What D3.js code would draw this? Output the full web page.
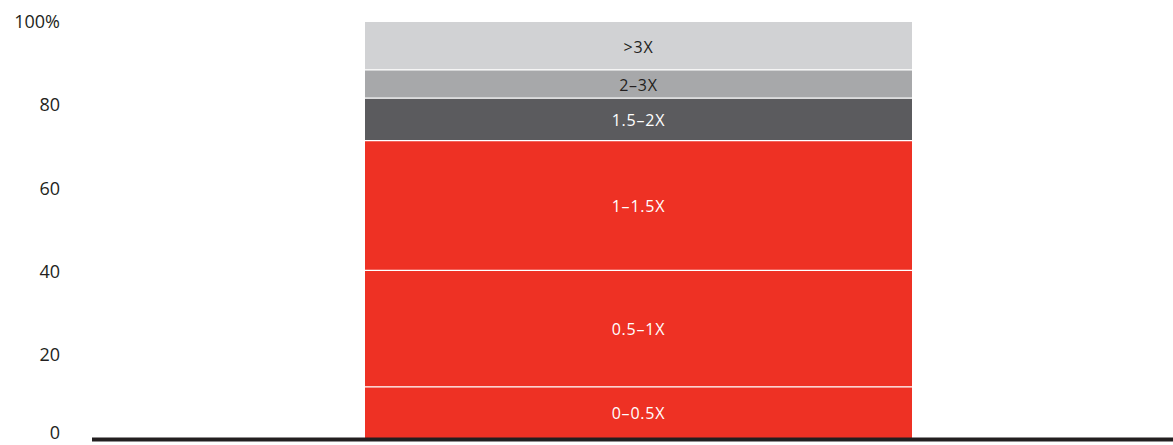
<!DOCTYPE html>
<html><head><meta charset="utf-8">
<script src="https://cdn.jsdelivr.net/npm/d3@7"></script>
<style>
html,body{margin:0;padding:0;background:#fff;}
svg{display:block;font-family:"Open Sans","Lato",sans-serif;}
</style></head>
<body>
<svg id="chart" width="1173" height="445"></svg>
<script>
const categories = ["All"];
const segments = ["0–0.5X", "0.5–1X", "1–1.5X", "1.5–2X", "2–3X", ">3X"];
const values = [12.3, 28, 31.2, 10.2, 6.8, 11.5];
const colors = ["#EE3124", "#EE3124", "#EE3124", "#5B5B5E", "#A7A8AA", "#D1D2D4"];
const labelColors = ["#fff", "#fff", "#fff", "#fff", "#231F20", "#231F20"];
const yTicks = [0, 20, 40, 60, 80, 100];

const svg = d3.select("#chart");
const y = d3.scaleLinear().domain([0, 100]).range([438, 22]);
const x = d3.scaleBand().domain(categories).range([365, 912]).padding(0);

let cum = 0;
const stacked = values.map((v, i) => { const d = {seg: segments[i], y0: cum, y1: cum + v, i}; cum += v; return d; });

const g = svg.append("g");
g.selectAll("rect.seg").data(stacked).join("rect")
  .attr("class", "seg")
  .attr("x", x("All"))
  .attr("width", x.bandwidth())
  .attr("y", d => y(d.y1))
  .attr("height", d => y(d.y0) - y(d.y1))
  .attr("fill", d => colors[d.i]);

// white separators
g.selectAll("line.sep").data(stacked.slice(1)).join("line")
  .attr("class", "sep")
  .attr("x1", x("All")).attr("x2", x("All") + x.bandwidth())
  .attr("y1", d => y(d.y0)).attr("y2", d => y(d.y0))
  .attr("stroke", "#fff").attr("stroke-width", 1.2);

g.selectAll("text.lab").data(stacked).join("text")
  .attr("class", "lab")
  .attr("x", x("All") + x.bandwidth() / 2)
  .attr("y", d => (y(d.y0) + y(d.y1)) / 2 + 1)
  .attr("dy", "0.35em")
  .attr("text-anchor", "middle")
  .attr("font-size", 16)
  .attr("letter-spacing", 0.8)
  .attr("fill", d => labelColors[d.i])
  .text(d => d.seg);

// y axis labels
const yAxis = d3.axisLeft(y).tickValues(yTicks).tickSize(0).tickPadding(0)
  .tickFormat(d => d === 100 ? "100%" : d);
const ya = svg.append("g").attr("transform", "translate(60,0)").call(yAxis);
ya.select(".domain").remove();
ya.selectAll("text").attr("font-size", 18).attr("fill", "#231F20")
  .attr("font-family", "'Open Sans', Lato, sans-serif")
  .attr("dy", d => d === 0 ? "0.05em" : "0.32em");

// baseline
svg.append("line")
  .attr("x1", 92).attr("x2", 1173)
  .attr("y1", y(0) + 1.5).attr("y2", y(0) + 1.5)
  .attr("stroke", "#231F20").attr("stroke-width", 4);
</script>
</body></html>
